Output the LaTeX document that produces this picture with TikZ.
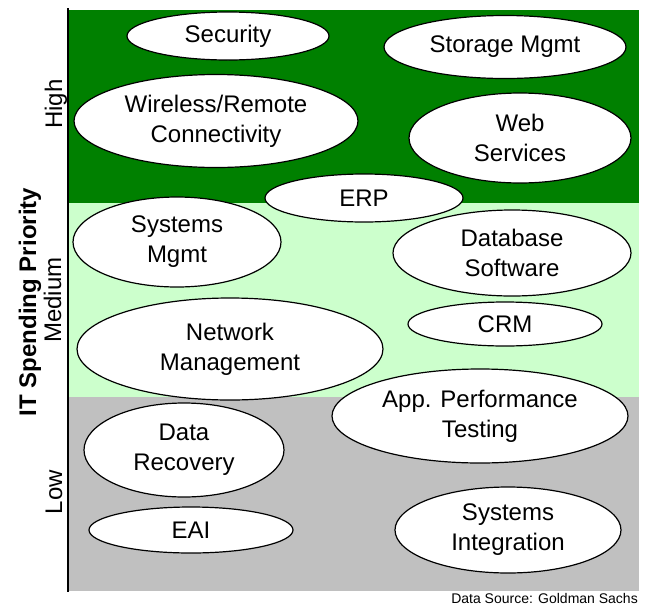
\documentclass[tikz,border=0pt]{standalone}
\usepackage{fontspec}
\setmainfont{Liberation Sans}
\usepackage{xcolor}
\usepackage{tikz}
\usetikzlibrary{shapes,positioning}
\definecolor{highgreen}{RGB}{0,128,0}
\definecolor{midgreen}{RGB}{204,255,204}
\definecolor{lowgray}{RGB}{192,192,192}
\tikzset{prio-line/.style={line width=2pt}}
\tikzset{prio-bubble/.style={draw, ellipse, fill=white, line width=1.2pt, inner sep=0}}
\tikzset{prio-text/.style={align=center, font=\fontsize{24}{30}\selectfont}}
\tikzset{prio-axis/.style={rotate=90, anchor=base, font=\fontsize{24}{29}\selectfont}}

\begin{document}
\begin{tikzpicture}[x=1pt, y=-1pt]
            \useasboundingbox (0,0) rectangle (649,606);

            % priority bands
            \fill[highgreen] (68,10) rectangle (639,203);
            \fill[midgreen] (68,203) rectangle (639,397);
            \fill[lowgray] (68,397) rectangle (639,591);

            \coordinate (axis-top) at (68,8);
            \coordinate (axis-bottom) at (68,592);
            \draw[prio-line] (axis-top) -- (axis-bottom);

            \node[prio-axis] (high) at (62,104) {High};
            \node[prio-axis] (medium) at (61,300) {Medium};
            \node[prio-axis] (low) at (62,492) {Low};
            \node[prio-axis, font=\fontsize{24}{29}\selectfont\bfseries] (priority) at (36,302) {IT Spending Priority};

            % high
            \node[prio-bubble, minimum width=202, minimum height=48, label={[prio-text]center:Security}] (security) at (228,36) {};
            \node[prio-bubble, minimum width=242, minimum height=63, label={[prio-text]center:Storage Mgmt}] (storage) at (505,47) {};
            \node[prio-bubble, minimum width=284, minimum height=93, label={[prio-text]center:Wireless/Remote\\Connectivity}] (wireless) at (216,121) {};
            \node[prio-bubble, minimum width=222, minimum height=90, label={[prio-text]center:Web\\Services}] (web) at (520,138) {};
            \node[prio-bubble, minimum width=198, minimum height=48, label={[prio-text]center:ERP}] (erp) at (364,198) {};

            % medium
            \node[prio-bubble, minimum width=208, minimum height=90, label={[prio-text]center:Systems\\Mgmt}] (sysmgmt) at (177,242) {};
            \node[prio-bubble, minimum width=238, minimum height=86, label={[prio-text]center:Database\\Software}] (database) at (512,253) {};
            \node[prio-bubble, minimum width=194, minimum height=44, label={[prio-text]center:CRM}] (crm) at (505,324) {};
            \node[prio-bubble, minimum width=306, minimum height=102, label={[prio-text]center:Network\\Management}] (network) at (230,349) {};

            % low
            \node[prio-bubble, minimum width=296, minimum height=94, label={[prio-text]center:App. Performance\\Testing}] (appperf) at (480,416) {};
            \node[prio-bubble, minimum width=200, minimum height=94, label={[prio-text]center:Data\\Recovery}] (datarec) at (184,450) {};
            \node[prio-bubble, minimum width=204, minimum height=46, label={[prio-text]center:EAI}] (eai) at (191,530) {};
            \node[prio-bubble, minimum width=226, minimum height=86, label={[prio-text]center:Systems\\Integration}] (sysint) at (508,530) {};

            \node[anchor=east, inner sep=1pt, font=\fontsize{14}{16}\selectfont] (source) at (639,598) {Data Source: Goldman Sachs};
        \end{tikzpicture}
\end{document}
